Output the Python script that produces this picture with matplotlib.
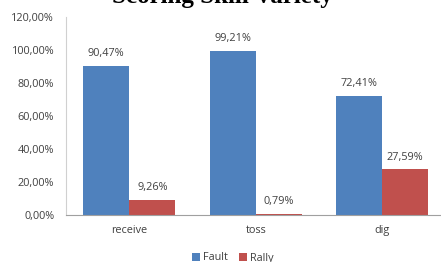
import matplotlib
matplotlib.use('Agg')
import matplotlib.pyplot as plt
import numpy as np

categories = ['receive', 'toss', 'dig']
fault = [90.47, 99.21, 72.41]
rally = [9.26, 0.79, 27.59]
yticks = [0, 20, 40, 60, 80, 100, 120]

BLUE = '#4F81BD'; RED = '#C0504D'
plt.rcParams['font.family'] = ['Open Sans', 'DejaVu Sans']
FS = 7.8

fig = plt.figure(figsize=(4.41, 2.62), dpi=100)
ax = fig.add_axes([66 / 441, 47 / 262, 379.5 / 441, 198 / 262])
x = np.arange(len(categories))
w = 0.364
ax.bar(x - w / 2, fault, w, color=BLUE, label='Fault')
ax.bar(x + w / 2, rally, w, color=RED, label='Rally')
for xs, vals in [(x - w / 2, fault), (x + w / 2, rally)]:
    for xi, v in zip(xs, vals):
        ax.annotate(f'{v:.2f}%'.replace('.', ','), (xi, v), xytext=(0, 5), textcoords='offset points',
                    ha='center', va='bottom', fontsize=FS, color='#404040')
ax.set_xlim(-0.5, 2.5)
ax.set_ylim(0, 120)
ax.set_yticks(yticks)
ax.set_yticklabels([f'{t:.2f}%'.replace('.', ',') for t in yticks], fontsize=FS, color='#404040')
ax.set_xticks(x)
ax.set_xticklabels(categories, fontsize=FS, color='#404040')
ax.tick_params(axis='y', length=0, pad=8.5)
ax.tick_params(axis='x', length=0, pad=7)
for s in ['top', 'right']:
    ax.spines[s].set_visible(False)
ax.spines['left'].set_color('#D0D0D0')
ax.spines['bottom'].set_color('#A0A0A0')
fig.text(222 / 441, 1 - 3 / 262, 'Scoring Skill Variety', ha='center', va='baseline',
         fontsize=18, fontweight='bold', family='Liberation Serif')
fig.legend(loc='center', bbox_to_anchor=(233 / 441, 1 - 258 / 262), ncol=2, frameon=False,
           fontsize=FS, handlelength=0.75, handleheight=0.75, handletextpad=0.3, columnspacing=1.0,
           labelcolor='#404040', borderpad=0)
fig.savefig('out.png', dpi=100, facecolor='white')
